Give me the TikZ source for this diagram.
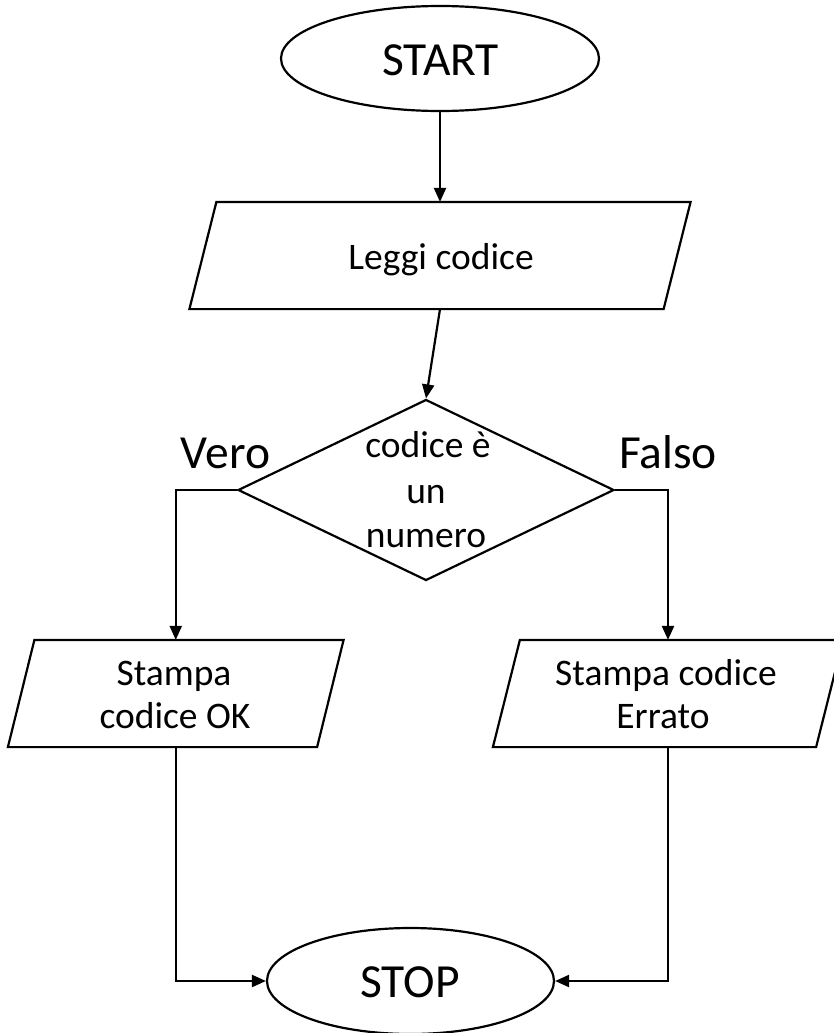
\documentclass[tikz,border=0pt]{standalone}
\usepackage{fontspec}
\setmainfont{Carlito}
\usetikzlibrary{shapes.geometric,arrows.meta}
\newcommand{\slantbox}[2]{\draw ([xshift=-#2]#1.south west) -- ([xshift=-#2]#1.south east) -- ([xshift=#2]#1.north east) -- ([xshift=#2]#1.north west) -- cycle;}
\begin{document}
\begin{tikzpicture}[x=1pt,y=-1pt,
  line width=2.2pt,
  term/.style={ellipse,draw,inner sep=0pt},
  iobox/.style={rectangle,inner sep=0pt,minimum height=105pt},
  decbox/.style={diamond,draw,inner sep=0pt},
  big/.style={font=\fontsize{47.5}{56}\selectfont,inner sep=0pt,anchor=base},
  txt/.style={font=\fontsize{37.5}{45}\selectfont,inner sep=0pt,anchor=base},
  arr/.style={-{Triangle[length=14pt,width=12pt]}}
]
\useasboundingbox (0,0) rectangle (833,1033);
% shapes
\node[term,minimum width=318pt,minimum height=105pt] (start) at (440,58.5) {};
\node[iobox,minimum width=472pt] (leggi) at (440,255.5) {};
\slantbox{leggi}{13.5pt}
\node[decbox,minimum width=376pt,minimum height=181pt] (dec) at (426,490) {};
\node[iobox,minimum width=307pt] (ok) at (175.75,693.5) {};
\slantbox{ok}{13.25pt}
\node[iobox,minimum width=321pt] (err) at (668,693.5) {};
\slantbox{err}{13.5pt}
\node[term,minimum width=287pt,minimum height=106pt] (stop) at (410.5,981) {};
% texts
\node[big] (tstart) at (440.5,75) {START};
\node[txt] (tleggi) at (441,269) {Leggi codice};
\node[txt] (td1) at (428,457) {codice è};
\node[txt] (td2) at (426,503) {un};
\node[txt] (td3) at (426,547) {numero};
\node[big] (tvero) at (225.5,468) {Vero};
\node[big] (tfalso) at (668,468) {Falso};
\node[txt] (tok1) at (174,685) {Stampa};
\node[txt] (tok2) at (175,728) {codice OK};
\node[txt] (terr1) at (666,685) {Stampa codice};
\node[txt] (terr2) at (663,728) {Errato};
\node[big] (tstop) at (410,997) {STOP};
% connectors
\draw[arr] (start.south) -- (start.south |- leggi.north);
\draw[arr] (leggi.south) -- (dec.north);
\draw[arr] (dec.west) -| (ok.north);
\draw[arr] (dec.east) -| (err.north);
\draw[arr] (ok.south) |- (stop.west);
\draw[arr] (err.south) |- (stop.east);
\end{tikzpicture}
\end{document}
